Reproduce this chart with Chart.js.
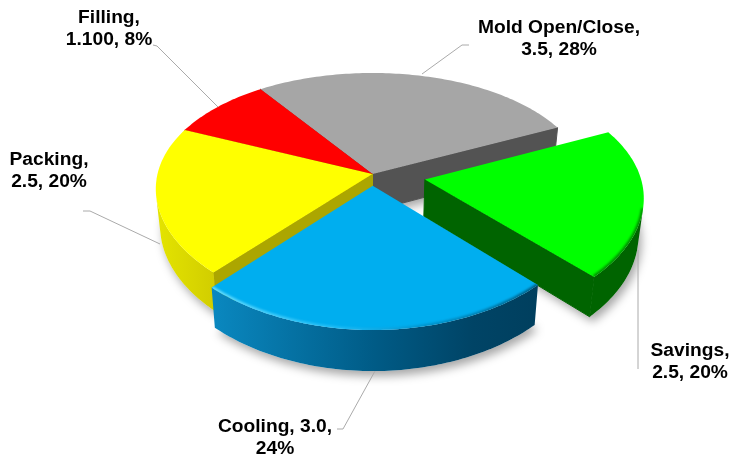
<!DOCTYPE html>
<html>
<head>
<meta charset="utf-8">
<script src="https://cdn.jsdelivr.net/npm/chart.js@4"></script>
<style>
  html, body { margin: 0; padding: 0; background: #fff; }
  canvas { display: block; }
</style>
</head>
<body>
<canvas id="grafico" width="745" height="462"></canvas>
<script>
// Datos
const categorias = ['Mold Open/Close', 'Savings', 'Cooling', 'Packing', 'Filling'];
const valores = [3.5, 2.5, 3.0, 2.5, 1.1];
const textoValores = ['3.5', '2.5', '3.0', '2.5', '1.100'];
const porcentajes = [28, 20, 24, 20, 8];

const colores = ['#a6a6a6', '#00ff00', '#00aeef', '#ffff00', '#ff0000'];
const coloresCorte = ['#535353', '#006400', '#00405f', '#aca600', '#a00000'];
const separacion = [0, 53, 21, 0, 0];
const ordenPintado = [0, 4, 3, 1, 2];

// Posicion de cada etiqueta: [x centro, y primera linea, tokens en la primera linea]
const posEtiquetas = [[559, 33, 1], [690, 356, 1], [275, 432, 2], [49, 165, 1], [109, 23, 1]];
const guias = [
    [[469, 45], [462, 45], [422, 74]],
    [[638, 369], [638, 250]],
    [[337, 429], [343, 429], [375, 371]],
    [[83, 211], [90, 211], [160, 244]],
    [[153, 45], [157, 46], [218, 107]]
];

// Perspectiva
const PERSP_X = 0.125, PERSP_Y = 0.16, PLANO = 0.545, ALTO = 37, FUGA = 0.02;

function proyectar(arc, u, v, z) {
    const sx = 1 / (1 - PERSP_X * v);
    const sy = 1 / (1 - PERSP_Y * v);
    return {
        x: arc.x + arc.outerRadius * u * sx * (1 - FUGA * z),
        y: arc.y + arc.outerRadius * PLANO * v * sy + ALTO * z * (1 + 0.1 * v)
    };
}

// Contorno de la porcion: vertice + borde, en coordenadas del plano
function contorno(arc) {
    const e = (arc.options.offset || 0) / arc.outerRadius;
    const medio = (arc.startAngle + arc.endAngle) / 2;
    const ox = e * Math.cos(medio), oy = e * Math.sin(medio);
    const borde = [];
    const pasos = Math.ceil((arc.endAngle - arc.startAngle) / (Math.PI / 180));
    for (let i = 0; i <= pasos; i++) {
        const a = arc.startAngle + (arc.endAngle - arc.startAngle) * i / pasos;
        borde.push([ox + Math.cos(a), oy + Math.sin(a)]);
    }
    return { vertice: [ox, oy], borde };
}

function trazar(ctx, puntos) {
    ctx.beginPath();
    puntos.forEach((p, i) => i ? ctx.lineTo(p.x, p.y) : ctx.moveTo(p.x, p.y));
    ctx.closePath();
}

function areaCara(a, b, c, d) {
    const q = [a, b, c, d];
    let s = 0;
    q.forEach((p, i) => {
        const n = q[(i + 1) % 4];
        s += p.x * n.y - n.x * p.y;
    });
    return s / 2;
}

function colorPared(ctx, i, minX, maxX) {
    const g = ctx.createLinearGradient(minX, 0, maxX, 0);
    if (i === 2) {
        g.addColorStop(0, '#0a88c0');
        g.addColorStop(0.5, '#005b86');
        g.addColorStop(0.8, '#004466');
        g.addColorStop(1, '#003f5e');
        return g;
    }
    if (i === 3) {
        g.addColorStop(0, '#e4e400');
        g.addColorStop(1, '#d2ce00');
        return g;
    }
    return coloresCorte[i];
}

function pintarSombra(ctx, arc) {
    const { vertice, borde } = contorno(arc);
    const abajo = [vertice, ...borde].map(p => proyectar(arc, p[0], p[1], 1));
    ctx.save();
    ctx.shadowColor = 'rgba(0,0,0,0.35)';
    ctx.shadowBlur = 10;
    ctx.shadowOffsetX = 3;
    ctx.shadowOffsetY = 5;
    ctx.fillStyle = '#ffffff';
    trazar(ctx, abajo);
    ctx.fill();
    ctx.restore();
}

function pintarPorcion(ctx, arc, i) {
    const { vertice, borde } = contorno(arc);
    const arriba = [vertice, ...borde].map(p => proyectar(arc, p[0], p[1], 0));
    const abajo = [vertice, ...borde].map(p => proyectar(arc, p[0], p[1], 1));
    const n = arriba.length;

    // Caras de corte visibles
    [0, n - 1].forEach(k => {
        const s = (k + 1) % n;
        if (areaCara(arriba[k], arriba[s], abajo[s], abajo[k]) < 0) {
            ctx.fillStyle = coloresCorte[i];
            ctx.strokeStyle = coloresCorte[i];
            ctx.lineWidth = 1;
            trazar(ctx, [arriba[k], arriba[s], abajo[s], abajo[k]]);
            ctx.fill();
            ctx.stroke();
        }
    });

    // Pared exterior visible
    const sup = [], inf = [];
    for (let k = 1; k < n - 1; k++) {
        if (areaCara(arriba[k], arriba[k + 1], abajo[k + 1], abajo[k]) < 0) {
            if (!sup.length) { sup.push(arriba[k]); inf.push(abajo[k]); }
            sup.push(arriba[k + 1]);
            inf.push(abajo[k + 1]);
        }
    }
    if (sup.length) {
        const xs = sup.map(p => p.x);
        const minX = Math.min(...xs), maxX = Math.max(...xs);
        ctx.fillStyle = colorPared(ctx, i, minX, maxX);
        trazar(ctx, [...sup, ...inf.reverse()]);
        ctx.fill();
    }

    // Cara superior
    ctx.fillStyle = colores[i];
    trazar(ctx, arriba);
    ctx.fill();

    // Bisel del borde
    if (i === 1 || i === 2) {
        ctx.save();
        trazar(ctx, arriba);
        ctx.clip();
        ctx.filter = 'blur(1px)';
        const xs = sup.map(p => p.x);
        const g = ctx.createLinearGradient(Math.min(...xs), 0, Math.max(...xs), 0);
        if (i === 2) {
            g.addColorStop(0, 'rgba(110,225,255,0.95)');
            g.addColorStop(0.4, 'rgba(60,200,250,0.5)');
            g.addColorStop(0.65, 'rgba(0,120,170,0.5)');
            g.addColorStop(1, 'rgba(0,70,100,0.8)');
        } else {
            g.addColorStop(0, 'rgba(0,110,0,0.8)');
            g.addColorStop(1, 'rgba(0,110,0,0.8)');
        }
        ctx.strokeStyle = g;
        ctx.lineWidth = 4;
        ctx.beginPath();
        sup.forEach((p, k) => k ? ctx.lineTo(p.x, p.y) : ctx.moveTo(p.x, p.y));
        ctx.stroke();
        ctx.restore();
    }
}

const pie3d = {
    id: 'pie3d',
    beforeDatasetsDraw(chart) {
        const ctx = chart.ctx;
        const arcos = chart.getDatasetMeta(0).data;
        ctx.save();
        ordenPintado.forEach(i => pintarSombra(ctx, arcos[i]));
        ordenPintado.forEach(i => pintarPorcion(ctx, arcos[i], i));
        ctx.restore();
        return false;
    },
    afterDraw(chart) {
        const ctx = chart.ctx;
        ctx.save();
        ctx.strokeStyle = '#aaaaaa';
        ctx.lineWidth = 1;
        guias.forEach(g => {
            ctx.beginPath();
            g.forEach((p, k) => k ? ctx.lineTo(p[0], p[1]) : ctx.moveTo(p[0], p[1]));
            ctx.stroke();
        });
        ctx.fillStyle = '#000000';
        ctx.font = 'bold 19.2px "Liberation Sans"';
        ctx.textAlign = 'center';
        categorias.forEach((nombre, i) => {
            const tokens = [nombre + ',', textoValores[i] + ',', porcentajes[i] + '%'];
            const [x, y, corte] = posEtiquetas[i];
            ctx.fillText(tokens.slice(0, corte).join(' '), x, y);
            ctx.fillText(tokens.slice(corte).join(' '), x, y + 22);
        });
        ctx.restore();
    }
};

new Chart(document.getElementById('grafico'), {
    type: 'pie',
    data: {
        labels: categorias,
        datasets: [{
            data: valores,
            backgroundColor: colores,
            offset: separacion,
            borderWidth: 0
        }]
    },
    options: {
        responsive: false,
        animation: false,
        rotation: -35,
        radius: 215,
        layout: { padding: { bottom: 114 } },
        plugins: { legend: { display: false }, tooltip: { enabled: false } }
    },
    plugins: [pie3d]
});
</script>
</body>
</html>
